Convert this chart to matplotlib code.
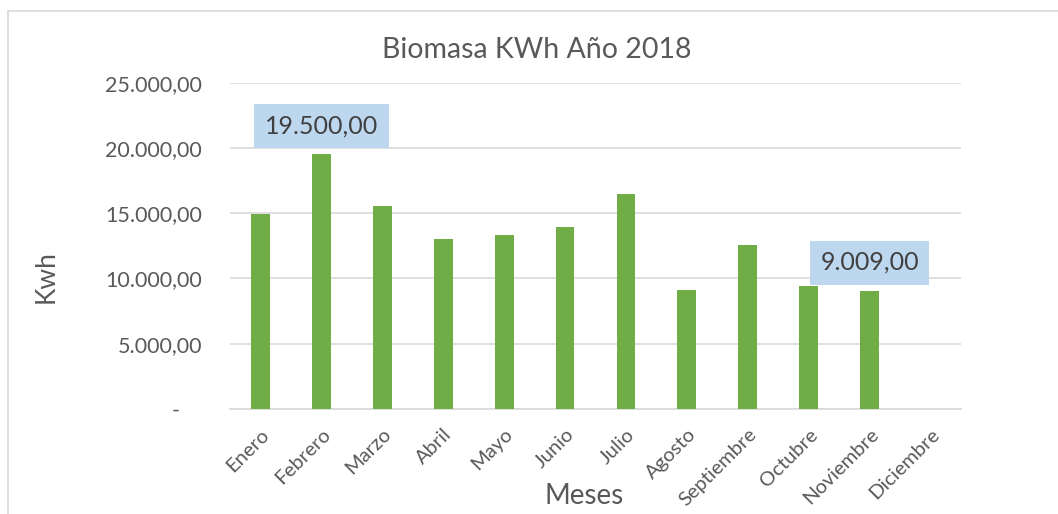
import matplotlib
matplotlib.use("Agg")
import matplotlib.pyplot as plt
from matplotlib.patches import Rectangle
from matplotlib.ticker import FuncFormatter

meses = ["Enero", "Febrero", "Marzo", "Abril", "Mayo", "Junio", "Julio",
         "Agosto", "Septiembre", "Octubre", "Noviembre", "Diciembre"]
kwh = [14950, 19500, 15550, 13050, 13300, 13950, 16500,
       9150, 12580, 9420, 9009, 0]
y_ticks = [0, 5000, 10000, 15000, 20000, 25000]
labelled = {1: 21700, 10: 11220}  # bar index -> label box height

GREEN = "#70AD47"
GRID = "#D9D9D9"
TEXT = "#595959"

plt.rcParams["font.family"] = ["Lato", "DejaVu Sans"]


def es_fmt(v):
    s = f"{v:,.2f}"
    return s.replace(",", "X").replace(".", ",").replace("X", ".")


fig = plt.figure(figsize=(10.58, 5.14), dpi=100)
ax = fig.add_axes([230 / 1058, 1 - 409 / 514, 731 / 1058, (409 - 82.7) / 514])

x = range(len(meses))
ax.bar(x, kwh, width=0.31, color=GREEN, zorder=3)
ax.set_xlim(-0.5, len(meses) - 0.5)
ax.set_ylim(0, 25000)
ax.set_yticks(y_ticks)
ax.yaxis.set_major_formatter(FuncFormatter(lambda v, p: "-    " if v == 0 else es_fmt(v)))
ax.grid(axis="y", color=GRID, linewidth=1.2, zorder=0)
for s in ["top", "right", "left"]:
    ax.spines[s].set_visible(False)
ax.spines["bottom"].set_color(GRID)
ax.spines["bottom"].set_linewidth(1.2)
ax.tick_params(axis="both", length=0, colors=TEXT)
ax.tick_params(axis="y", labelsize=15.5, pad=20)
ax.set_xticks(list(x))
ax.set_xticklabels(meses, rotation=45, ha="right", rotation_mode="anchor",
                   fontsize=14.5, color=TEXT)
ax.tick_params(axis="x", pad=12)

for i, yy in labelled.items():
    ax.text(i, yy, es_fmt(kwh[i]), ha="center", va="center", fontsize=18,
            color="#404040", zorder=5,
            bbox=dict(boxstyle="square,pad=0.42", fc="#BDD7EE", ec="none"))

fig.text(0.507, 0.903, "Biomasa KWh Año 2018", ha="center", va="center",
         fontsize=20.5, color=TEXT)
fig.text(0.044, 0.461, "Kwh", rotation=90, ha="center", va="center",
         fontsize=19, color=TEXT)
fig.text(0.552, 0.035, "Meses", ha="center", va="center", fontsize=20, color=TEXT)

# chart area border (right/bottom edges fall outside the picture)
fig.patches.append(Rectangle((8 / 1058, -0.1), 1.2, 1.1 - 11 / 514,
                             transform=fig.transFigure, fill=False,
                             ec=GRID, lw=1.2))

fig.savefig("out.png", dpi=100)
